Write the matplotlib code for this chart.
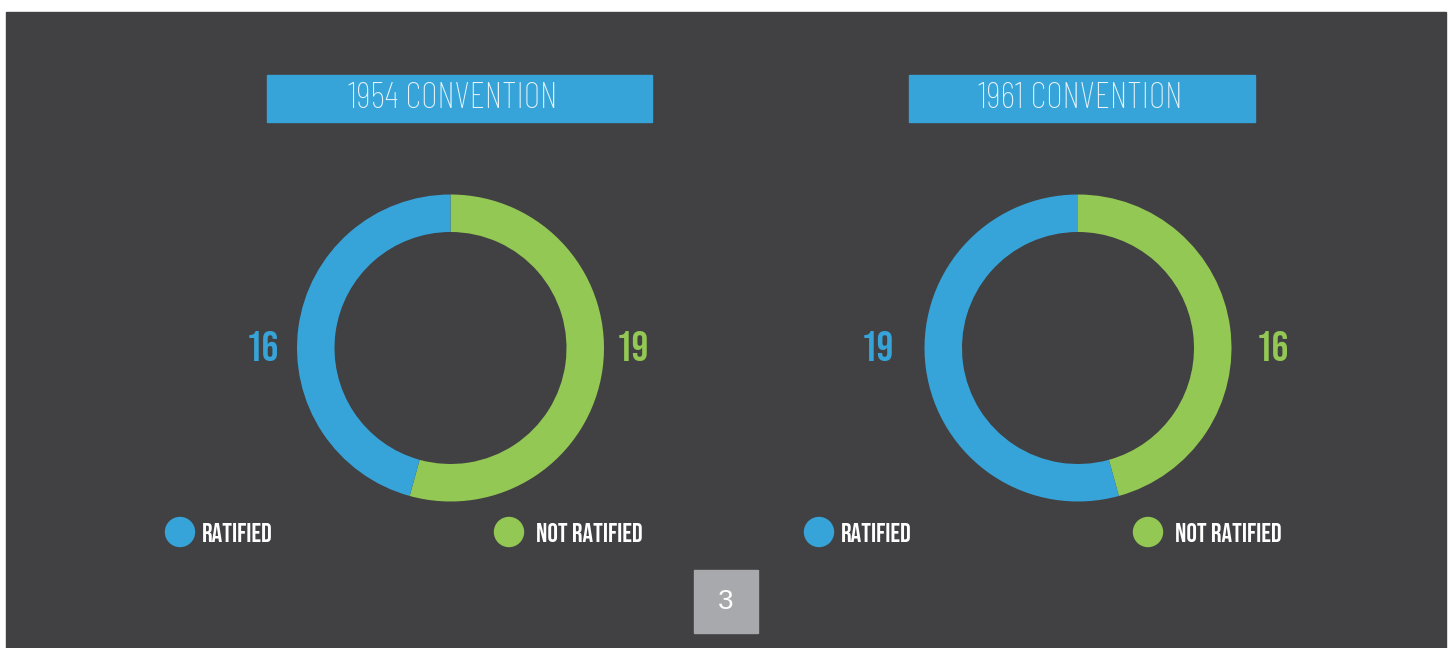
import matplotlib
matplotlib.use("Agg")
import matplotlib.pyplot as plt
from matplotlib import font_manager
from matplotlib.patches import Rectangle, Circle

# data
titles = ["1954 CONVENTION", "1961 CONVENTION"]
ratified = [16, 19]
not_ratified = [19, 16]
legend_labels = ["RATIFIED", "NOT RATIFIED"]
page_number = "3"

BG = "#414042"
BLUE = "#36a4d9"
GREEN = "#92c853"
GREY = "#a7a9ac"

have = {f.name for f in font_manager.fontManager.ttflist}


def pick(names):
    for n in names:
        if n in have:
            return n
    return "DejaVu Sans"


bold_font = pick(["Bebas Neue", "Oswald", "Roboto Condensed", "Barlow Condensed"])
thin_font = pick(["Barlow Condensed", "Roboto Condensed", "Antonio", "Oswald", "Roboto"])

W, H = 1451, 648
fig = plt.figure(figsize=(W / 100, H / 100), dpi=100, facecolor="white")
ax = fig.add_axes([0, 0, 1, 1])
ax.set_xlim(0, W)
ax.set_ylim(H, 0)
ax.axis("off")

ax.add_patch(Rectangle((6, 12), 1440, 640, color=BG))

centers = [450.5, 1078]
cy = 348
boxes = [(267, 652), (909, 1255)]
num_pos = [(262, 632), (877, 1272)]
leg_pos = [(180, 509), (819, 1148)]
leg_off = [22, 27]

for i in range(2):
    x0, x1 = boxes[i]
    ax.add_patch(Rectangle((x0, 75), x1 - x0, 47, color=BLUE))
    ax.text(centers[i] + 2, 99, titles[i], color="#e8f3fa", fontsize=26,
            family=thin_font, weight=100, ha="center", va="center")

    # donut
    R = 160
    pax = fig.add_axes([(centers[i] - R) / W, (H - cy - R) / H, 2 * R / W, 2 * R / H])
    pax.pie([not_ratified[i], ratified[i]], colors=[GREEN, BLUE], startangle=90,
            counterclock=False, radius=153.5, wedgeprops=dict(width=37.5, linewidth=0))
    pax.set_xlim(-R, R)
    pax.set_ylim(-R, R)
    pax.axis("off")

    ax.text(num_pos[i][0], 346, str(ratified[i]), color=BLUE, fontsize=30,
            family=bold_font, ha="center", va="center")
    ax.text(num_pos[i][1], 346, str(not_ratified[i]), color=GREEN, fontsize=30,
            family=bold_font, ha="center", va="center")

    for cx, off, col, lab in zip(leg_pos[i], leg_off, [BLUE, GREEN], legend_labels):
        ax.add_patch(Circle((cx, 532), 14.5, color=col))
        ax.text(cx + off, 533, lab, color="white", fontsize=19, family=bold_font,
                ha="left", va="center")

ax.add_patch(Rectangle((694, 570), 64, 63, color=GREY))
ax.text(726, 602, page_number, color="white", fontsize=20, family="Liberation Sans",
        ha="center", va="center")

fig.savefig("out.png", dpi=100, facecolor="white")
